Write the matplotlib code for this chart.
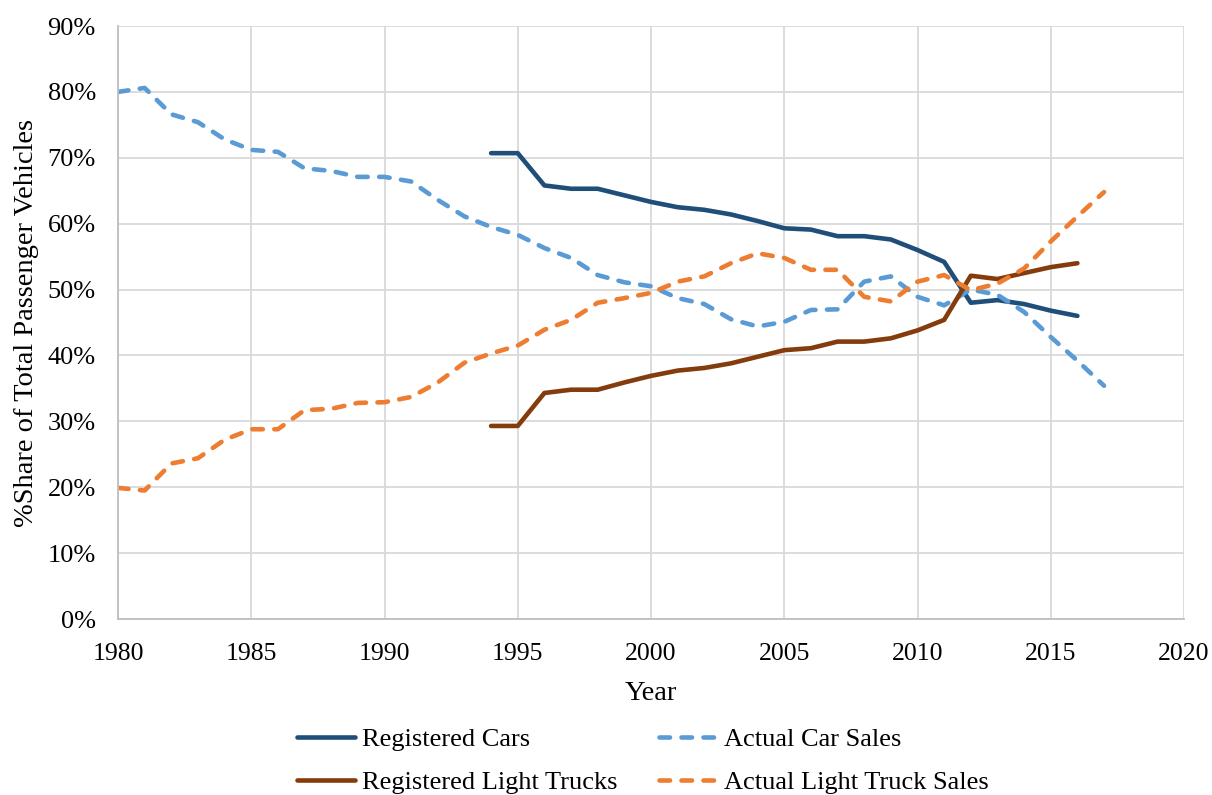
import matplotlib
matplotlib.use("Agg")
import matplotlib.pyplot as plt
from matplotlib.ticker import FuncFormatter

# Share of passenger vehicles, percent
sales_years = list(range(1980, 2018))
car_sales = [80.0, 80.6, 76.6, 75.4, 72.8, 71.2, 70.9, 68.4, 68.0, 67.1,
             67.1, 66.4, 63.6, 61.1, 59.5, 58.3, 56.3, 54.8, 52.2, 51.1,
             50.5, 48.7, 47.8, 45.5, 44.4, 45.1, 46.9, 47.0, 51.2, 52.0,
             48.9, 47.6, 50.0, 49.2, 46.6, 42.8, 39.2, 35.4]
truck_sales = [19.9, 19.5, 23.6, 24.4, 27.2, 28.8, 28.8, 31.7, 31.9, 32.8,
               32.9, 33.7, 35.9, 38.9, 40.3, 41.5, 43.9, 45.4, 48.0, 48.7,
               49.5, 51.2, 52.0, 54.0, 55.5, 54.8, 53.0, 53.0, 48.9, 48.2,
               51.2, 52.2, 49.9, 50.9, 53.2, 57.3, 61.1, 64.8]

reg_years = list(range(1994, 2017))
reg_cars = [70.7, 70.7, 65.8, 65.3, 65.3, 64.3, 63.3, 62.5, 62.1, 61.4,
            60.4, 59.3, 59.1, 58.1, 58.1, 57.6, 56.0, 54.2, 48.0, 48.4,
            47.8, 46.8, 46.0]
reg_trucks = [29.3, 29.3, 34.3, 34.8, 34.8, 35.9, 36.9, 37.7, 38.1, 38.8,
              39.8, 40.8, 41.1, 42.1, 42.1, 42.6, 43.8, 45.4, 52.1, 51.6,
              52.5, 53.4, 54.0]

plt.rcParams['font.family'] = ['Liberation Serif', 'DejaVu Serif']

fig = plt.figure(figsize=(12.12, 7.95), dpi=100)
ax = fig.add_axes([118 / 1212, 1 - 619 / 795, 1066 / 1212, 593 / 795])

lw = 3.3
dash = (0, (2.3, 2.5))
l1, = ax.plot(reg_years, reg_cars, color="#1F4E79", lw=lw,
              solid_capstyle="round", label="Registered Cars")
l2, = ax.plot(sales_years, car_sales, color="#5B9BD5", lw=lw, linestyle=dash,
              dash_capstyle="round", label="Actual Car Sales")
l3, = ax.plot(reg_years, reg_trucks, color="#843C0C", lw=lw,
              solid_capstyle="round", label="Registered Light Trucks")
l4, = ax.plot(sales_years, truck_sales, color="#ED7D31", lw=lw,
              linestyle=dash, dash_capstyle="round",
              label="Actual Light Truck Sales")

ax.set_xlim(1980, 2020)
ax.set_ylim(0, 90)
ax.set_xticks(range(1980, 2021, 5))
ax.set_yticks(range(0, 91, 10))
ax.yaxis.set_major_formatter(FuncFormatter(lambda v, p: f"{v:.0f}%"))
ax.tick_params(length=0)
ax.tick_params(axis="x", pad=17, labelsize=18.5)
ax.tick_params(axis="y", pad=16, labelsize=19)
ax.grid(True, color="#D9D9D9", lw=1.3)
ax.set_axisbelow(True)
for side in ["top", "right"]:
    ax.spines[side].set_visible(False)
for side in ["left", "bottom"]:
    ax.spines[side].set_color("#BFBFBF")
    ax.spines[side].set_linewidth(1.3)

ax.set_xlabel("Year", fontsize=20.5, labelpad=12)
ax.set_ylabel("%Share of Total Passenger Vehicles", fontsize=20.5, labelpad=6)

# legend fills column by column, so order handles to read row by row
fig.legend([l1, l3, l2, l4],
           [l.get_label() for l in (l1, l3, l2, l4)],
           loc="center", bbox_to_anchor=(643 / 1212, 1 - 761 / 795),
           ncol=2, frameon=False, fontsize=19, handlelength=2.2,
           handletextpad=0.25, columnspacing=1.6, labelspacing=0.75,
           borderaxespad=0, borderpad=0)

fig.savefig("out.png", dpi=100)
